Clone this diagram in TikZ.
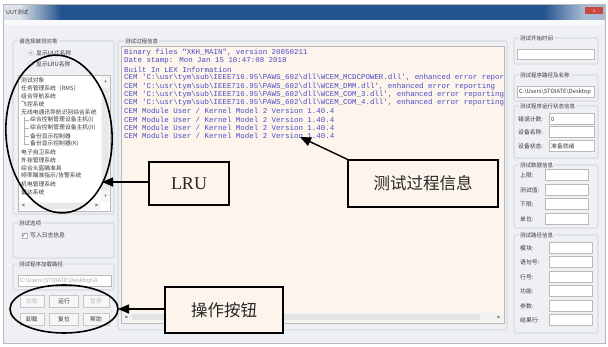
\documentclass[tikz,border=0pt]{standalone}
\usepackage{amssymb}
\usepackage{fontspec}
\setmainfont{Liberation Serif}
\newfontfamily\cjk{Noto Sans CJK SC}
\newfontfamily\mono{Liberation Mono}
\usetikzlibrary{arrows.meta,shapes.geometric}

\definecolor{winbg}{HTML}{EEF0F3}
\definecolor{cream}{HTML}{FDF5EC}
\definecolor{logblue}{HTML}{4A4AC8}
\definecolor{uitext}{HTML}{3A3A3A}
\definecolor{frameline}{HTML}{C6CAD0}
\definecolor{barblue}{rgb}{0.141,0.329,0.561}
\definecolor{barlight}{rgb}{0.867,0.890,0.918}
\definecolor{barend}{rgb}{0.663,0.733,0.824}
\definecolor{closered}{rgb}{0.784,0.278,0.243}

\newcommand\bsl{\char"5C\relax}
\newcommand\sq{\char"27\relax}

\tikzset{
  grp/.style={draw=frameline, rounded corners=1.5pt, line width=0.6pt},
  grptitle/.style={anchor=west, fill=winbg, inner sep=1pt, font=\cjk\fontsize{5.5}{6}\selectfont, text=uitext},
  uilabel/.style={anchor=west, inner sep=0pt, font=\cjk\fontsize{5.8}{6}\selectfont, text=uitext},
  field/.style={draw=gray!55, fill=white, line width=0.5pt},
  btn/.style={draw=gray!45, fill=gray!6, line width=0.5pt, minimum height=12pt, inner sep=0pt, font=\cjk\fontsize{5.8}{6}\selectfont, text=uitext},
  logline/.style={anchor=west, inner sep=0pt, font=\mono\fontsize{7.45}{8}\selectfont, text=logblue},
  callout/.style={draw=black, line width=1.4pt, fill=cream, text=black!85, inner sep=0pt},
  ring/.style={draw=black, line width=1.6pt},
  pointer/.style={draw=black, line width=1.4pt, -{Triangle[length=11pt,width=9pt]}},
  sbarrow/.style={inner sep=0pt, font=\fontsize{4}{4}\selectfont, text=gray},
  band/.style={inner sep=0pt, outer sep=0pt, draw=none, minimum height=16pt, anchor=north west},
}

\begin{document}
\begin{tikzpicture}[x=1pt,y=-1pt]
\useasboundingbox (0,0) rectangle (608,347);
\fill[white] (0,0) rectangle (608,347);

% window body
\fill[winbg] (3,20) rectangle (605,343);
\fill[white!60!winbg] (4,20) rectangle (604,25);

% title bar as filled bands: light at the left, dark blue across, paler at the right
\node[band, fill=barblue, minimum width=602pt] (titlebar) at (3,4) {};
\node[band, fill=barlight, minimum width=16pt] (titleleft) at (3,4) {};
\node[band, fill=barend, minimum width=20pt] (titleright) at (585,4) {};
\foreach \k in {0,...,19} {
  \pgfmathtruncatemacro\p{100-5*\k}
  \node[band, fill=barlight!\p!barblue, minimum width=2.4pt] (tl\k) at (19+2.05*\k,4) {};
  \node[band, fill=barend!\p!barblue, minimum width=2.4pt] (tr\k) at (583-2*\k,4) {};
}
\draw[gray!55] (3,4) rectangle (605,343);
\node[anchor=west, inner sep=0pt, font=\cjk\fontsize{5.5}{6}\selectfont, text=black!80] (wintitle) at (6,12) {UUT测试};
\node[fill=closered, minimum width=18pt, minimum height=7pt, inner sep=0pt,
      font=\fontsize{5}{5}\selectfont, text=white] (closebtn) at (594,11) {x};

% ---------- left column ----------
\draw[grp] (13,41) rectangle (114,214);
\node[grptitle] (g1t) at (18,41) {请选择被测对象};
\draw[gray!60, fill=white] (31,53) circle (2.4);
\fill[gray!70] (31,53) circle (1.1);
\node[uilabel] (r1) at (36,53) {显示UUT名称};
\draw[gray!60, fill=white] (31,64) circle (2.4);
\node[uilabel] (r2) at (36,64) {显示LRU名称};

\draw[field] (18,75) rectangle (110,211);
\begin{scope}
  \clip (19,76) rectangle (101,202);
  \foreach [count=\i] \t/\dx in {{测试对象}/0, {任务管理系统（RMS）}/0, {组合导航系统}/0, {飞控系统}/0,
      {无线电通讯导航识别综合系统}/0, {综合控制管理设备主机(I)}/9, {综合控制管理设备主机(II)}/9,
      {备份显示控制器}/9, {备份显示控制器(K)}/9, {电子自卫系统}/0, {外挂管理系统}/0,
      {综合头盔瞄准具}/0, {频率瞄准指示/告警系统}/0, {机电管理系统}/0, {雷达系统}/0}
    \node[uilabel, name=li\i] at (21+\dx, 72+8*\i) {\t};
  \draw[gray!60, line width=0.4pt] (24,117) -- (24,144);
  \foreach \y in {120,128,136,144} \draw[gray!60, line width=0.4pt] (24,\y) -- (29,\y);
\end{scope}
% list scrollbars
\fill[gray!8] (101,76) rectangle (110,202);
\fill[gray!18] (102,88) rectangle (109,190);
\node[sbarrow] (vsu) at (105.5,81) {$\blacktriangle$};
\node[sbarrow] (vsd) at (105.5,196) {$\blacktriangledown$};
\fill[gray!8] (19,202) rectangle (101,210);
\fill[gray!18] (40,203) rectangle (82,209);
\node[sbarrow] (hsl) at (23,206) {$\blacktriangleleft$};
\node[sbarrow] (hsr) at (97,206) {$\blacktriangleright$};

\draw[grp] (13,223) rectangle (114,258);
\node[grptitle] (g2t) at (18,223) {测试选项};
\draw[gray!60, fill=white] (22,233) rectangle (27,238);
\node[inner sep=0pt, font=\fontsize{5}{5}\selectfont, text=black!70] (chk) at (24.5,235.3) {\checkmark};
\node[uilabel] (logopt) at (30,235.5) {写入日志信息};

\draw[grp] (13,264) rectangle (114,290);
\node[grptitle] (g3t) at (18,264) {测试程序加载路径};
\draw[field] (18,275) rectangle (111,286);
\begin{scope}
  \clip (18,275) rectangle (111,286);
  \node[uilabel, text=gray!70] (loadpath) at (20,280.5) {C:\bsl Users\bsl STOIATE\bsl Desktop\bsl A};
\end{scope}

\node[btn, minimum width=24pt, text=gray!50] (bload) at (32,301) {加载};
\node[btn, minimum width=29pt] (brun) at (64,301) {运行};
\node[btn, minimum width=26pt, text=gray!50] (bpause) at (96,301) {暂停};
\node[btn, minimum width=24pt] (bunload) at (32,319) {卸载};
\node[btn, minimum width=29pt] (breset) at (64,319) {复位};
\node[btn, minimum width=26pt] (bhelp) at (96,319) {帮助};

% ---------- middle column ----------
\draw[grp] (118,41) rectangle (507,330);
\node[grptitle] (g4t) at (124,41) {测试过程信息};
\draw[fill=cream, draw=gray!55, line width=0.5pt] (121,46) rectangle (504,323);
\begin{scope}
  \clip (122,47) rectangle (503,312);
  \foreach [count=\i] \t in {
      {Binary files "XKH\_MAIN", version 20050211},
      {Date stamp: Mon Jan 15 10:47:08 2018},
      {Built In LEX Information},
      {CEM \sq C:\bsl usr\bsl tym\bsl sub\bsl IEEE716.95\bsl PAWS\_602\bsl dll\bsl WCEM\_MCDCPOWER.dll\sq, enhanced error reporting},
      {CEM \sq C:\bsl usr\bsl tym\bsl sub\bsl IEEE716.95\bsl PAWS\_602\bsl dll\bsl WCEM\_DMM.dll\sq, enhanced error reporting},
      {CEM \sq C:\bsl usr\bsl tym\bsl sub\bsl IEEE716.95\bsl PAWS\_602\bsl dll\bsl WCEM\_COM\_3.dll\sq, enhanced error reporting},
      {CEM \sq C:\bsl usr\bsl tym\bsl sub\bsl IEEE716.95\bsl PAWS\_602\bsl dll\bsl WCEM\_COM\_4.dll\sq, enhanced error reporting},
      {CEM Module User / Kernel Model 2 Version 1.40.4},
      {CEM Module User / Kernel Model 2 Version 1.40.4},
      {CEM Module User / Kernel Model 2 Version 1.40.4},
      {CEM Module User / Kernel Model 2 Version 1.40.4}}
    \node[logline, name=log\i] at (124, 44.35+8.35*\i) {\t};
\end{scope}
\fill[gray!10] (122,313) rectangle (503,322);
\fill[gray!22] (132,314.5) rectangle (480,320.5);
\node[sbarrow] (msl) at (126,317.5) {$\blacktriangleleft$};
\node[sbarrow] (msr) at (499,317.5) {$\blacktriangleright$};

% ---------- right column ----------
\draw[grp] (514,38) rectangle (598,64);
\node[grptitle] (g5t) at (519,38) {测试开始时间};
\draw[field] (517,49) rectangle (594,59);

\draw[grp] (514,75) rectangle (598,101);
\node[grptitle] (g6t) at (519,75) {测试程序路径及名称};
\draw[field] (517,86) rectangle (594,97);
\begin{scope}
  \clip (517,86) rectangle (594,97);
  \node[uilabel] (prog) at (519,91.5) {C:\bsl Users\bsl STOIATE\bsl Desktop};
\end{scope}

\draw[grp] (514,106) rectangle (598,158);
\node[grptitle] (g7t) at (519,106) {测试程序运行状态信息};
\foreach [count=\i] \t/\y/\v in {{错误计数:}/119/0, {设备名称:}/132/{}, {设备状态:}/146/{准备就绪}} {
  \node[uilabel, name=st\i] at (518,\y) {\t};
  \draw[field] (549,\y-5.5) rectangle (594,\y+5.5);
  \node[uilabel, name=sv\i] at (551,\y) {\v};
}

\draw[grp] (514,165) rectangle (598,228);
\node[grptitle] (g8t) at (519,165) {测试数据信息};
\foreach [count=\i] \t/\y in {{上限:}/175, {测试值:}/190, {下限:}/204, {单位:}/219} {
  \node[uilabel, name=dt\i] at (520,\y) {\t};
  \draw[field] (545,\y-5.5) rectangle (588,\y+5.5);
}

\draw[grp] (514,235) rectangle (598,333);
\node[grptitle] (g9t) at (519,235) {测试路径信息};
\foreach [count=\i] \t/\y in {{模块:}/248, {语句号:}/262, {行号:}/277, {功能:}/291, {参数:}/306, {结果行:}/320} {
  \node[uilabel, name=pt\i] at (520,\y) {\t};
  \draw[field] (549,\y-5.5) rectangle (592,\y+5.5);
}

% ---------- annotations ----------
\node[ring, ellipse, minimum width=106pt, minimum height=158pt, rotate=4] (lruring) at (59,134) {};
\node[ring, ellipse, minimum width=108pt, minimum height=48pt] (btnring) at (64,309) {};

\node[callout, minimum width=80pt, minimum height=43pt, font=\fontsize{18}{18}\selectfont] (lru) at (189,183.5) {LRU};
\node[callout, minimum width=150pt, minimum height=47pt, font=\cjk\fontsize{16.5}{17}\selectfont] (info) at (423,183.5) {测试过程信息};
\node[callout, minimum width=118pt, minimum height=46pt, font=\cjk\fontsize{16.5}{17}\selectfont] (ops) at (224,310) {操作按钮};

\coordinate (lrutip) at (102,182);
\coordinate (infotip) at (300,137);
\coordinate (opstip) at (118,309);
\draw[pointer] (lru.west |- lrutip) -- (lrutip);
\draw[pointer] (info.north west) -- (infotip);
\draw[pointer] (ops.west |- opstip) -- (opstip);
\end{tikzpicture}
\end{document}
